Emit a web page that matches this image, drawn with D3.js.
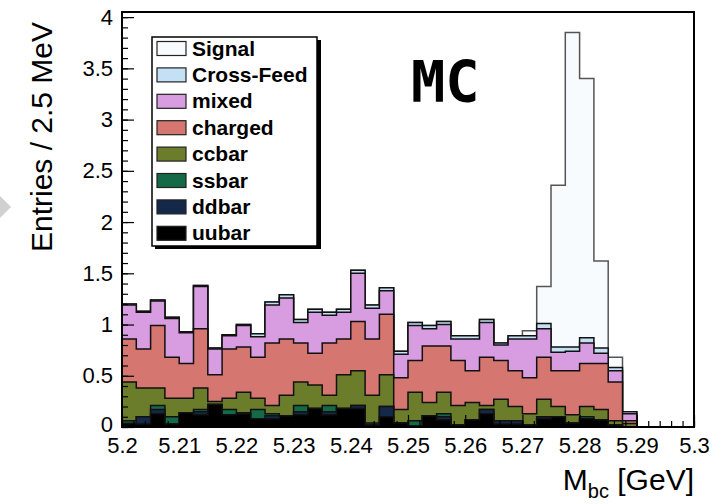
<!DOCTYPE html>
<html>
<head>
<meta charset="utf-8">
<script src="https://cdn.jsdelivr.net/npm/d3@7"></script>
<style>
  body { margin: 0; background: #fff; }
  svg text { font-family: "Liberation Sans", Arial, Helvetica, sans-serif; }
</style>
</head>
<body>
<div id="chart"></div>
<script>
// M_bc histogram, 40 bins of 2.5 MeV from 5.20 to 5.30 GeV
const binStart = 5.2, binWidth = 0.0025;

const uubar = [0.035,0.03,0.13,0.03,0.14,0.12,0.22,0.12,0.13,0.08, 0.08,0.11,0.12,0.18,0.12,0.18,0.18,0.02,0.10,0.04,
               0.01,0.11,0.07,0.02,0.07,0.13,0.03,0.03,0.02,0.08, 0.10,0.04,0.08,0.07,0.02,0,0,0,0,0];
const ddbar = [0,0.07,0.04,0,0,0.03,0,0,0,0, 0.03,0,0.03,0,0.03,0,0.03,0,0.10,0,
               0,0,0.03,0,0,0.04,0.03,0.03,0,0.02, 0,0,0,0,0,0,0,0,0,0];
const ssbar = [0.025,0,0.04,0.07,0,0.02,0,0.05,0.01,0.09, 0.02,0,0.06,0,0.06,0,0,0.02,0,0,
               0.05,0,0.03,0,0,0,0,0,0,0, 0,0,0.02,0,0,0,0,0,0,0];
const ccbar = [0.38,0.28,0.17,0.18,0.14,0.21,0.03,0.11,0.20,0.11, 0.08,0.20,0.23,0.23,0.10,0.33,0.34,0.27,0.31,0.13,
               0.28,0.13,0.21,0.19,0.17,0.04,0.21,0.14,0.11,0.17, 0.10,0.08,0.10,0.10,0.04,0.035,0,0,0,0];
const charged = [0.42,0.38,0.61,0.40,0.34,0.58,0.26,0.48,0.44,0.40, 0.61,0.55,0.38,0.31,0.51,0.35,0.48,0.55,0.59,0.31,
                 0.31,0.55,0.45,0.44,0.31,0.47,0.38,0.35,0.35,0.41, 0.35,0.43,0.42,0.45,0.38,0.025,0,0,0,0];
const mixed = [0.33,0.36,0.24,0.38,0.30,0.41,0.25,0.13,0.21,0.20, 0.37,0.40,0.20,0.40,0.27,0.26,0.47,0.30,0.23,0.23,
               0.34,0.17,0.21,0.21,0.31,0.34,0.15,0.31,0.38,0.28, 0.18,0.19,0.20,0.10,0.11,0.07,0,0,0,0];
const crossFeed = [0.01,0.01,0.01,0.01,0.01,0.01,0.01,0.01,0.01,0.03, 0.03,0.03,0.03,0.03,0.03,0.03,0.03,0.03,0.03,0.03,
                   0.03,0.03,0.03,0.03,0.03,0.03,0.02,0.03,0.03,0.05, 0.05,0.04,0.05,0.05,0.03,0.02,0,0,0,0];
const signal = [0,0,0,0,0,0,0,0,0,0, 0,0,0,0,0,0,0,0,0,0,
                0,0,0,0,0,0,0,0,0.05,0.36, 1.58,3.07,2.53,0.85,0.10,0,0,0,0,0];

// stacking order, bottom to top
const keys = ["uubar","ddbar","ssbar","ccbar","charged","mixed","Cross-Feed","Signal"];
const series = {"uubar": uubar, "ddbar": ddbar, "ssbar": ssbar, "ccbar": ccbar, "charged": charged,
                "mixed": mixed, "Cross-Feed": crossFeed, "Signal": signal};
const colors = {"Signal": "#f7fbfe", "Cross-Feed": "#c4e0f4", "mixed": "#d89ce0", "charged": "#d57671",
                "ccbar": "#6b7c2b", "ssbar": "#146a47", "ddbar": "#14284a", "uubar": "#000000"};
const legendOrder = ["Signal","Cross-Feed","mixed","charged","ccbar","ssbar","ddbar","uubar"];

const xTicks = [5.2,5.21,5.22,5.23,5.24,5.25,5.26,5.27,5.28,5.29,5.3];
const yTicks = [0,0.5,1,1.5,2,2.5,3,3.5,4];

const width = 712, height = 504;
const svg = d3.select("#chart").append("svg")
    .attr("width", width)
    .attr("height", height);

const x = d3.scaleLinear().domain([5.2, 5.3]).range([122, 694]);
const y = d3.scaleLinear().domain([0, 4.05]).range([427, 12]);

// build the table for d3.stack
const table = signal.map((_, i) => {
    let row = {i: i};
    keys.forEach(k => row[k] = series[k][i]);
    return row;
});
const stacked = d3.stack().keys(keys)(table);

const area = d3.area()
    .x(d => x(binStart + d.i * binWidth))
    .y0(y(0))
    .y1(d => y(d.v))
    .curve(d3.curveStepAfter);

// draw each cumulative histogram, top one first so the lower ones lie over it
const g = svg.append("g");
stacked.slice().reverse().forEach(layer => {
    let pts = layer.map((d, i) => ({i: i, v: d[1]}));
    pts.push({i: pts.length, v: pts[pts.length - 1].v});
    g.append("path")
        .attr("d", area(pts))
        .attr("fill", colors[layer.key])
        .attr("stroke", layer.key == "Signal" ? "#555" : "#111")
        .attr("stroke-width", 1.5);
});

// frame
svg.append("rect")
    .attr("x", 122).attr("y", 12)
    .attr("width", 694 - 122).attr("height", 427 - 12)
    .attr("fill", "none").attr("stroke", "#000").attr("stroke-width", 2);

// axes, ROOT style ticks pointing inside
const yAxis = svg.append("g").attr("transform", "translate(122,0)")
    .call(d3.axisLeft(y).tickValues(yTicks).tickSizeInner(-12).tickSizeOuter(0).tickPadding(9)
        .tickFormat(d3.format("~g")));
svg.append("g").attr("transform", "translate(122,0)")
    .call(d3.axisLeft(y).tickValues(d3.range(0, 40.5, 1).map(d => d / 10)).tickSizeInner(-6).tickSizeOuter(0).tickFormat(""));

svg.append("g").attr("transform", "translate(0,427)")
    .call(d3.axisBottom(x).tickValues(xTicks).tickSizeInner(-12).tickSizeOuter(0).tickPadding(10)
        .tickFormat(d3.format("~g")));
svg.append("g").attr("transform", "translate(0,427)")
    .call(d3.axisBottom(x).tickValues(d3.range(0, 51).map(d => 5.2 + d * 0.002)).tickSizeInner(-6).tickSizeOuter(0).tickFormat(""));

svg.selectAll(".domain").remove();
svg.selectAll(".tick line").attr("stroke", "#000").attr("stroke-width", 1.2);
svg.selectAll(".tick text").attr("font-size", 22).attr("fill", "#000")
    .style("font-family", "'Liberation Sans', Arial, sans-serif");
// lift the "0" a little so it clears the 5.2 label
yAxis.selectAll(".tick text").filter(d => d == 0).attr("dy", "0.2em");

// axis titles
svg.append("text")
    .attr("transform", "translate(52,137) rotate(-90)")
    .attr("text-anchor", "middle")
    .attr("font-size", 30)
    .text("Entries / 2.5 MeV");

const xt = svg.append("text")
    .attr("x", 694).attr("y", 490)
    .attr("text-anchor", "end")
    .attr("font-size", 30);
xt.append("tspan").text("M");
xt.append("tspan").attr("font-size", 20).attr("dy", 8).text("bc");
xt.append("tspan").attr("dy", -8).text(" [GeV]");

// MC label
svg.append("text")
    .attr("x", 411).attr("y", 102)
    .attr("font-size", 57)
    .attr("font-weight", "bold")
    .style("font-family", "'DejaVu Sans Mono', monospace")
    .text("MC");

// legend
const leg = svg.append("g");
leg.append("rect").attr("x", 155).attr("y", 40).attr("width", 166).attr("height", 209).attr("fill", "#000");
leg.append("rect").attr("x", 152).attr("y", 37).attr("width", 165).attr("height", 209)
    .attr("fill", "#fff").attr("stroke", "#000").attr("stroke-width", 1.5);
legendOrder.forEach((k, i) => {
    let yy = 41.5 + i * 26.4;
    leg.append("rect")
        .attr("x", 157).attr("y", yy).attr("width", 29).attr("height", 14)
        .attr("fill", colors[k]).attr("stroke", "#222").attr("stroke-width", 1.2);
    leg.append("text")
        .attr("x", 192).attr("y", yy + 14)
        .attr("font-size", 21).attr("font-weight", "bold")
        .text(k);
});

// small grey marker on the left edge
svg.append("path")
    .attr("d", "M0,196 L11,207 L0,218 Z")
    .attr("fill", "#d0d0d0");
</script>
</body>
</html>
